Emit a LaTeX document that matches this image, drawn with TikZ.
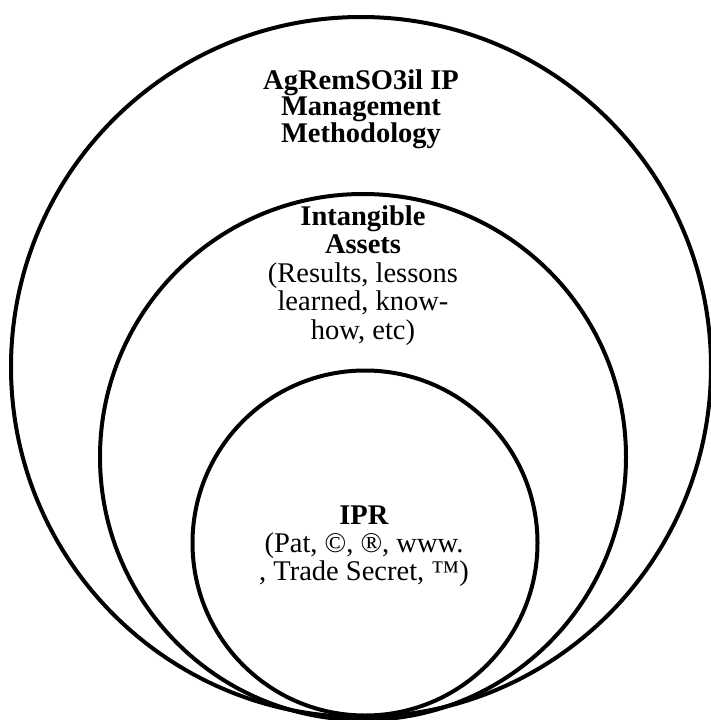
\documentclass[tikz,border=0pt]{standalone}
\usepackage{fontspec}
\setmainfont{Liberation Serif}
\begin{document}
\begin{tikzpicture}[x=1pt,y=-1pt,
  ring/.style={draw=black,line width=4pt},
  lbl/.style={align=center,inner sep=0pt,anchor=north}]
\useasboundingbox (0,0) rectangle (710,720);
\draw[ring] (361,367) circle[radius=350pt];
\draw[ring] (363,457) circle[radius=263pt];
\draw[ring] (365,543) circle[radius=172.5pt];
\node[lbl,font=\fontsize{28.5}{26.5}\selectfont\bfseries] (title) at (361,69.5)
  {AgRemSO3il IP\\Management\\Methodology};
\node[lbl,font=\fontsize{28.5}{28.5}\selectfont] (assets) at (363,205.5)
  {\textbf{Intangible}\\\textbf{Assets}\\(Results, lessons\\learned, know-\\how, etc)};
\node[lbl,font=\fontsize{28.5}{28}\selectfont] (ipr) at (364,506)
  {\textbf{IPR}\\(Pat, ©, ®, www.\\, Trade Secret, ™)};
\end{tikzpicture}
\end{document}
